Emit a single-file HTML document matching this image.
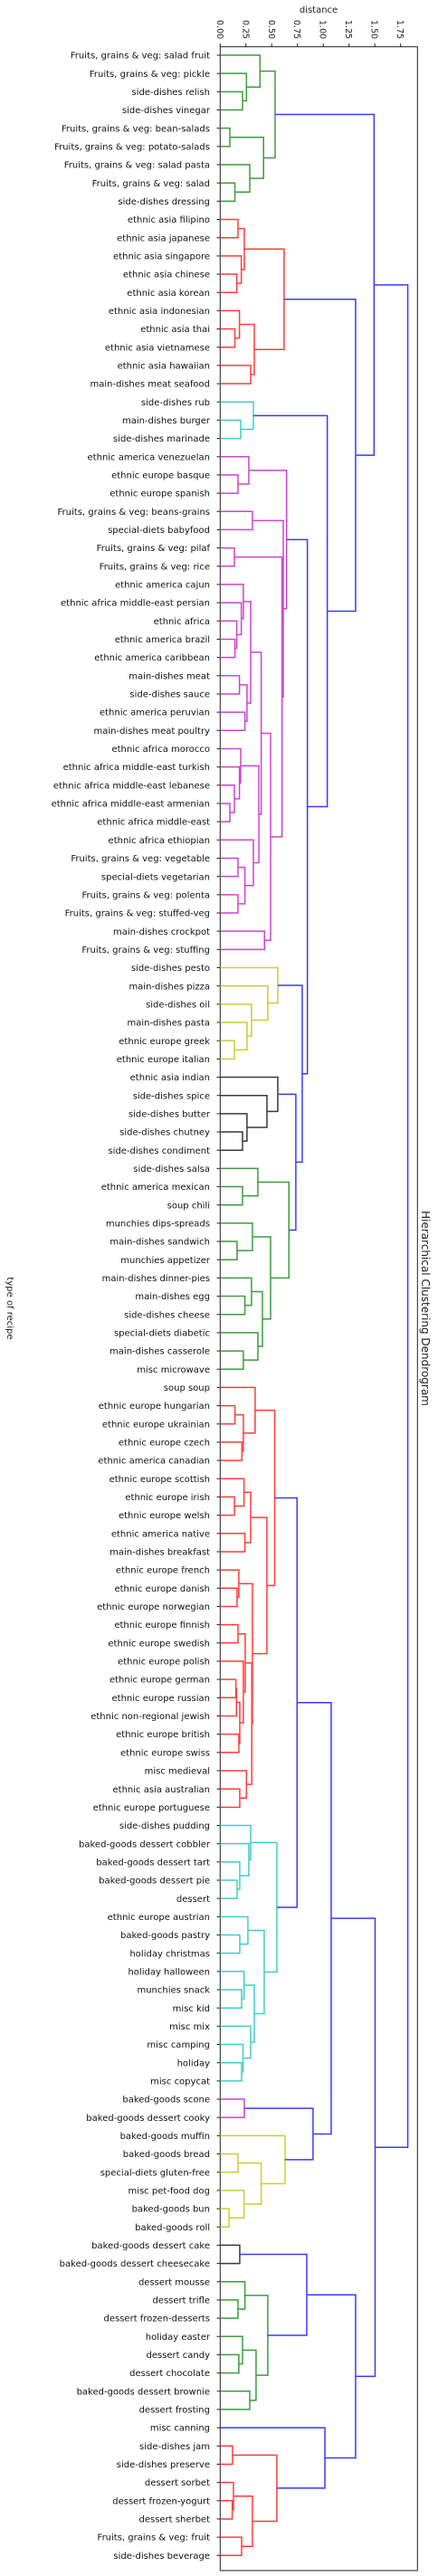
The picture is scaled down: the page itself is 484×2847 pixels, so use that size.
<!DOCTYPE html>
<html><head><meta charset="utf-8">
<style>
html,body{margin:0;padding:0;background:#fff;}
svg{display:block;font-family:"DejaVu Sans","Liberation Sans",sans-serif;}
</style></head>
<body>
<svg id="chart" width="484" height="2847" viewBox="0 0 484 2847" xmlns="http://www.w3.org/2000/svg">
<rect x="243.3" y="51.7" width="218" height="2789.3" fill="none" stroke="#222" stroke-width="1"/>
<text x="352" y="14" font-size="10" text-anchor="middle" fill="#222">distance</text>
<text transform="translate(466,1446) rotate(90)" font-size="12" text-anchor="middle" fill="#222">Hierarchical Clustering Dendrogram</text>
<text transform="translate(8,1446) rotate(90)" font-size="10" text-anchor="middle" fill="#222">type of recipe</text>
<g id="ticks"></g><g id="labels"></g><g id="links"></g>
</svg>
<script>
const leafLabels = ["Fruits, grains & veg: salad fruit","Fruits, grains & veg: pickle","side-dishes relish","side-dishes vinegar","Fruits, grains & veg: bean-salads","Fruits, grains & veg: potato-salads","Fruits, grains & veg: salad pasta","Fruits, grains & veg: salad","side-dishes dressing","ethnic asia filipino","ethnic asia japanese","ethnic asia singapore","ethnic asia chinese","ethnic asia korean","ethnic asia indonesian","ethnic asia thai","ethnic asia vietnamese","ethnic asia hawaiian","main-dishes meat seafood","side-dishes rub","main-dishes burger","side-dishes marinade","ethnic america venezuelan","ethnic europe basque","ethnic europe spanish","Fruits, grains & veg: beans-grains","special-diets babyfood","Fruits, grains & veg: pilaf","Fruits, grains & veg: rice","ethnic america cajun","ethnic africa middle-east persian","ethnic africa","ethnic america brazil","ethnic america caribbean","main-dishes meat","side-dishes sauce","ethnic america peruvian","main-dishes meat poultry","ethnic africa morocco","ethnic africa middle-east turkish","ethnic africa middle-east lebanese","ethnic africa middle-east armenian","ethnic africa middle-east","ethnic africa ethiopian","Fruits, grains & veg: vegetable","special-diets vegetarian","Fruits, grains & veg: polenta","Fruits, grains & veg: stuffed-veg","main-dishes crockpot","Fruits, grains & veg: stuffing","side-dishes pesto","main-dishes pizza","side-dishes oil","main-dishes pasta","ethnic europe greek","ethnic europe italian","ethnic asia indian","side-dishes spice","side-dishes butter","side-dishes chutney","side-dishes condiment","side-dishes salsa","ethnic america mexican","soup chili","munchies dips-spreads","main-dishes sandwich","munchies appetizer","main-dishes dinner-pies","main-dishes egg","side-dishes cheese","special-diets diabetic","main-dishes casserole","misc microwave","soup soup","ethnic europe hungarian","ethnic europe ukrainian","ethnic europe czech","ethnic america canadian","ethnic europe scottish","ethnic europe irish","ethnic europe welsh","ethnic america native","main-dishes breakfast","ethnic europe french","ethnic europe danish","ethnic europe norwegian","ethnic europe finnish","ethnic europe swedish","ethnic europe polish","ethnic europe german","ethnic europe russian","ethnic non-regional jewish","ethnic europe british","ethnic europe swiss","misc medieval","ethnic asia australian","ethnic europe portuguese","side-dishes pudding","baked-goods dessert cobbler","baked-goods dessert tart","baked-goods dessert pie","dessert","ethnic europe austrian","baked-goods pastry","holiday christmas","holiday halloween","munchies snack","misc kid","misc mix","misc camping","holiday","misc copycat","baked-goods scone","baked-goods dessert cooky","baked-goods muffin","baked-goods bread","special-diets gluten-free","misc pet-food dog","baked-goods bun","baked-goods roll","baked-goods dessert cake","baked-goods dessert cheesecake","dessert mousse","dessert trifle","dessert frozen-desserts","holiday easter","dessert candy","dessert chocolate","baked-goods dessert brownie","dessert frosting","misc canning","side-dishes jam","side-dishes preserve","dessert sorbet","dessert frozen-yogurt","dessert sherbet","Fruits, grains & veg: fruit","side-dishes beverage"];
const xTicks = [0,0.25,0.5,0.75,1.0,1.25,1.5,1.75];
const xTickLabels = ["0.00","0.25","0.50","0.75","1.00","1.25","1.50","1.75"];
// tree: [left, right, height, clusterColor?] ; leaves are 1-based indices
const G1 = [[1,[2,[3,4,.217],.255],.386],[[5,6,.094],[7,[8,9,.143],.287],.421],.533,'g'];
const R1 = [[[10,11,.173],[12,[13,14,.161],.205],.234],[[15,[16,17,.143],.187],[18,19,.296],.331],.620,'r'];
const C1 = [20,[21,22,.199],.322,'c'];
const M1 = [[23,[24,25,.173],.278],[[26,27,.313],[[28,29,.138],[[[[30,[31,[32,[33,34,.143],.161],.205],.225],[[35,36,.187],[37,38,.240],.260],.296],[[39,[40,[41,[42,43,.094],.138],.187],.199],[44,[[45,46,.173],[47,48,.173],.240],.322],.375],.398],[49,50,.430],.489],.600],.612],.644,'m'];
const Y1 = [51,[52,[53,[54,[55,56,.138],.260],.304],.462],.559,'y'];
const K1 = [57,[58,[59,[60,61,.217],.260],.454],.559,'k'];
const G2 = [[62,[63,64,.217],.366],[[65,[66,67,.164],.313],[[68,[69,70,.240],.304],[71,[72,73,.225],.366],.410],.489],.667,'g'];
const R2 = [[74,[[75,76,.143],[77,78,.211],.225],.339],[[[79,[80,81,.138],.231],[82,83,.240],.296],[[84,[85,86,.164],.181],[[[87,88,.173],[89,[[[90,91,.152],92,.158],[93,94,.181],.19],.225],.243],[95,[96,97,.190],.255],.307],.313],.453],.529,'r'];
const C2 = [[98,[99,[100,[101,102,.164],.190],.278],.296],[[103,[104,105,.190],.269],[[106,[107,108,.208],.231],[109,[110,[111,112,.208],.222],.296],.331],.427],.550,'c'];
const M2 = [113,114,.234,'m'];
const Y2 = [115,[[116,117,.173],[118,[119,120,.085],.231],.398],.629,'y'];
const K2 = [121,122,.190,'k'];
const G3 = [[123,[124,125,.173],.240],[[126,[127,128,.181],.217],[129,130,.287],.348],.462,'g'];
const R3 = [[132,133,.120],[[134,[135,136,.117],.129],[137,138,.208],.313],.550,'r'];
const root = [[G1,[R1,[C1,[M1,[Y1,[K1,G2,.734],.796],.846],1.039],1.314],1.493],
              [[[R2,C2,.746],[M2,Y2,.901],1.077],[[K2,G3,.840],[131,R3,1.016],1.314],1.503],1.820];

const palette = {g:'#3c9c3c', r:'#ff3c3c', c:'#40cccc', m:'#cc44cc', y:'#cccc33', k:'#3a3a3a', b:'#3a3aff'};
const x = d => 243.3 + d * 113.9;
const y = i => 61 + (i - 1) * 20.17;
const NS = 'http://www.w3.org/2000/svg';
const gT = document.getElementById('ticks'), gL = document.getElementById('labels'), gK = document.getElementById('links');

xTicks.forEach((t, k) => {
  const ln = document.createElementNS(NS, 'line');
  
  
  ln.setAttribute('x1', x(t)); ln.setAttribute('x2', x(t)); ln.setAttribute('y1', 51.7); ln.setAttribute('y2', 48);
  ln.setAttribute('stroke', '#222'); gT.appendChild(ln);
  const tx = document.createElementNS(NS, 'text');
  
  
  tx.setAttribute('transform', `translate(${x(t) - 3.5},22) rotate(90)`);
  tx.setAttribute('font-size', '9.5'); tx.setAttribute('fill', '#222');
  tx.textContent = xTickLabels[k]; gT.appendChild(tx);
});
leafLabels.forEach((s, k) => {
  const tx = document.createElementNS(NS, 'text');
  
  
  tx.setAttribute('x', 232); tx.setAttribute('y', y(k + 1) + 3.6);
  tx.setAttribute('text-anchor', 'end'); tx.setAttribute('font-size', '10'); tx.setAttribute('fill', '#111');
  tx.textContent = s; gL.appendChild(tx);
  const ln = document.createElementNS(NS, 'line');
  
  
  ln.setAttribute('x1', 239.5); ln.setAttribute('x2', 243.3); ln.setAttribute('y1', y(k + 1)); ln.setAttribute('y2', y(k + 1));
  ln.setAttribute('stroke', '#222'); gL.appendChild(ln);
});
function draw(n, inherited) {
  if (typeof n === 'number') return {yy: y(n), h: 0};
  const col = inherited || n[3] || null;
  const a = draw(n[0], col), b = draw(n[1], col);
  const p = document.createElementNS(NS, 'path');
  
  
  p.setAttribute('d', `M${x(a.h)},${a.yy}H${x(n[2])}V${b.yy}H${x(b.h)}`);
  p.setAttribute('fill', 'none');
  p.setAttribute('stroke', palette[col || 'b']);
  p.setAttribute('stroke-width', '1.5');
  gK.appendChild(p);
  return {yy: (a.yy + b.yy) / 2, h: n[2]};
}
draw(root, null);
</script>
</body></html>
